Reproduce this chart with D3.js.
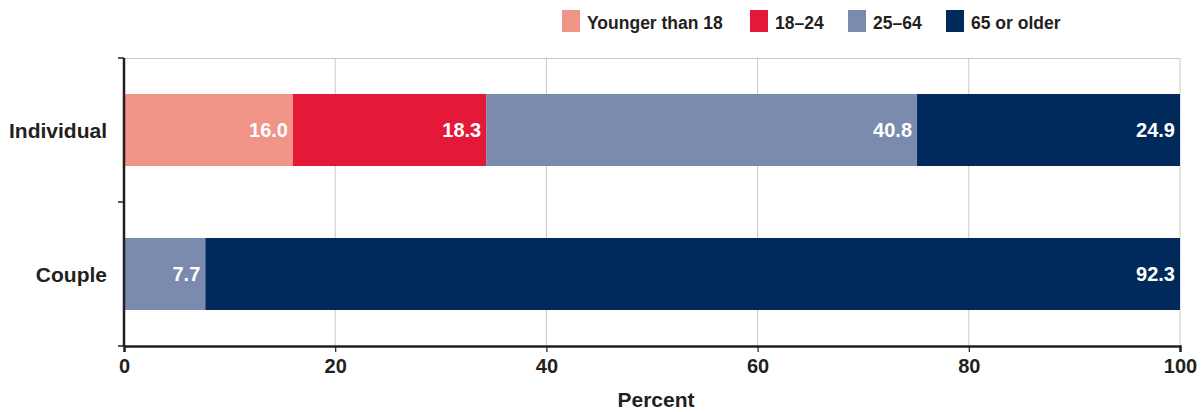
<!DOCTYPE html>
<html>
<head>
<meta charset="utf-8">
<script src="https://cdn.jsdelivr.net/npm/d3@7"></script>
<style>
  html, body { margin: 0; padding: 0; background: #fff; }
  svg { display: block; font-family: "Liberation Sans", Arial, Helvetica, sans-serif; }
</style>
</head>
<body>
<svg id="chart" width="1202" height="412"></svg>
<script>
// Age composition of recipients, by recipient type (percent)
const categories = ["Individual", "Couple"];
const seriesNames = ["Younger than 18", "18–24", "25–64", "65 or older"];
const seriesColors = ["#F09487", "#E31937", "#7A8BAE", "#002A5C"];
const individualValues = [16.0, 18.3, 40.8, 24.9];
const coupleValues = [null, null, 7.7, 92.3];
const xTicks = [0, 20, 40, 60, 80, 100];
const xTitle = "Percent";

const valuesByCategory = [individualValues, coupleValues];

const svg = d3.select("#chart");
const margin = { top: 58, right: 22, bottom: 66, left: 124 };
const W = 1202, H = 412;
const innerW = W - margin.left - margin.right;
const innerH = H - margin.top - margin.bottom;
const textColor = "#231f20";
const labelSize = 20;

const x = d3.scaleLinear().domain([0, 100]).range([0, innerW]);
const y = d3.scaleBand().domain(categories).range([0, innerH]).padding(0);

const g = svg.append("g").attr("transform", `translate(${margin.left},${margin.top})`);

// Gridlines
g.append("g").selectAll("line.vgrid")
  .data(xTicks.filter(d => d > 0))
  .join("line")
  .attr("x1", d => x(d)).attr("x2", d => x(d))
  .attr("y1", 0).attr("y2", innerH)
  .attr("stroke", "#c8c8c8").attr("stroke-width", 1);
g.append("line")
  .attr("x1", 0).attr("x2", innerW)
  .attr("y1", 0.5).attr("y2", 0.5)
  .attr("stroke", "#c8c8c8").attr("stroke-width", 1);

// Stacked segments
const barH = y.bandwidth() * 0.5;
categories.forEach((cat, ci) => {
  const vals = valuesByCategory[ci];
  let cum = 0;
  const segs = [];
  vals.forEach((v, si) => {
    if (v == null) return;
    segs.push({ start: cum, end: cum + v, v, si });
    cum += v;
  });
  const row = g.append("g");
  const y0 = y(cat) + (y.bandwidth() - barH) / 2;
  row.selectAll("rect")
    .data(segs)
    .join("rect")
    .attr("x", d => x(d.start))
    .attr("width", d => x(d.end) - x(d.start))
    .attr("y", y0)
    .attr("height", barH)
    .attr("fill", d => seriesColors[d.si]);
  row.selectAll("text")
    .data(segs)
    .join("text")
    .attr("x", d => x(Math.min(d.end, 100)) - 5)
    .attr("y", y0 + barH / 2)
    .attr("dy", "0.36em")
    .attr("text-anchor", "end")
    .attr("fill", "#fff")
    .attr("font-weight", "bold")
    .attr("font-size", labelSize)
    .text(d => d.v.toFixed(1));
});

// X axis
const xAxis = g.append("g")
  .attr("transform", `translate(0,${innerH})`)
  .call(d3.axisBottom(x).tickValues(xTicks).tickSize(6).tickPadding(7).tickFormat(d3.format("d")));
xAxis.select(".domain").attr("stroke", textColor).attr("stroke-width", 2.5);
xAxis.selectAll(".tick line").attr("stroke", textColor).attr("stroke-width", 1.2);
xAxis.selectAll(".tick text")
  .attr("fill", textColor).attr("font-size", labelSize).attr("font-weight", "bold")
  .attr("font-family", "Liberation Sans, Arial, sans-serif");

// Y axis: line with ticks at band boundaries
g.append("line")
  .attr("x1", 0).attr("x2", 0).attr("y1", 0).attr("y2", innerH)
  .attr("stroke", textColor).attr("stroke-width", 2.5);
const boundaries = [0, ...categories.map(c => y(c) + y.bandwidth())];
g.selectAll("line.ytick")
  .data(boundaries)
  .join("line")
  .attr("x1", -6).attr("x2", 0)
  .attr("y1", d => d).attr("y2", d => d)
  .attr("stroke", textColor).attr("stroke-width", 1.5);
g.selectAll("text.ylabel")
  .data(categories)
  .join("text")
  .attr("x", -17)
  .attr("y", d => y(d) + y.bandwidth() / 2)
  .attr("dy", "0.36em")
  .attr("text-anchor", "end")
  .attr("fill", textColor)
  .attr("font-weight", "bold")
  .attr("font-size", 21)
  .text(d => d);

// X axis title
svg.append("text")
  .attr("x", margin.left + innerW / 2 + 4)
  .attr("y", 407)
  .attr("text-anchor", "middle")
  .attr("fill", textColor)
  .attr("font-weight", "bold")
  .attr("font-size", 21)
  .text(xTitle);

// Legend
const legendX = [562, 750, 848, 946];
const legend = svg.append("g");
seriesNames.forEach((name, i) => {
  legend.append("rect")
    .attr("x", legendX[i]).attr("y", 10)
    .attr("width", 18).attr("height", 22)
    .attr("fill", seriesColors[i]);
  legend.append("text")
    .attr("x", legendX[i] + 25).attr("y", 28.5)
    .attr("fill", textColor)
    .attr("font-weight", "bold")
    .attr("font-size", 17.5)
    .text(name);
});
</script>
</body>
</html>
